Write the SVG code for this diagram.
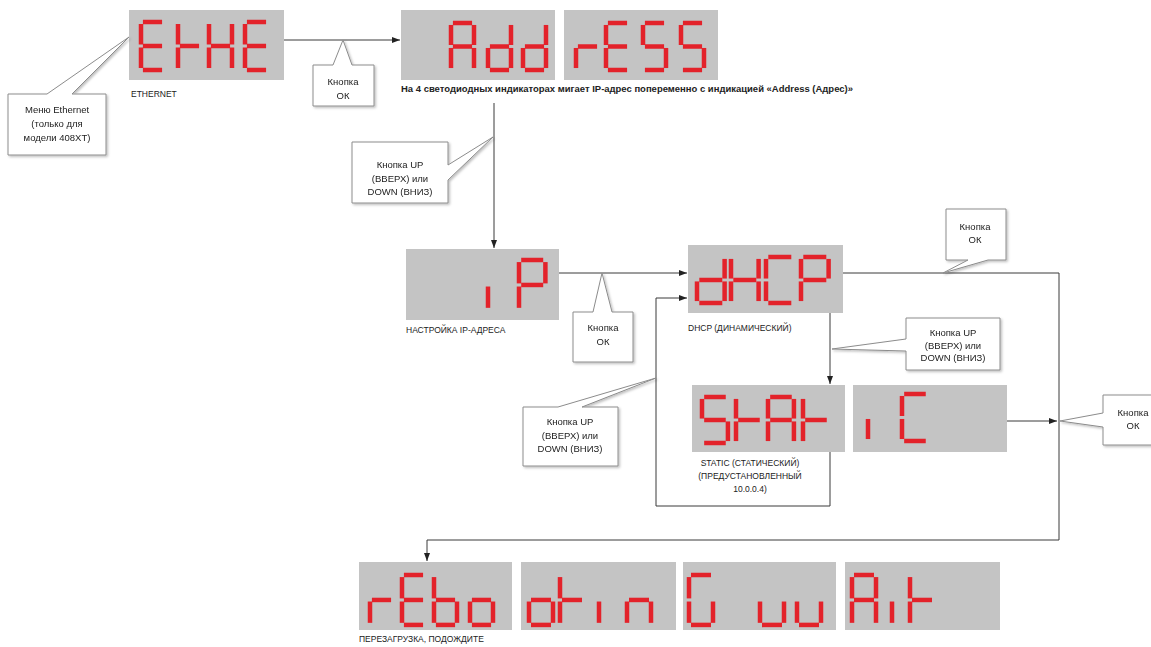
<svg xmlns="http://www.w3.org/2000/svg" xmlns:xlink="http://www.w3.org/1999/xlink" width="1151" height="647" viewBox="0 0 1151 647">
<style>
.box{fill:#c4c4c4}
.seg{stroke:#e3222a;stroke-width:4.5;fill:none}
.co{fill:#fff;stroke:#8c8c8c;stroke-width:1}
.ct{font-family:"Liberation Sans",Arial,sans-serif;font-size:9.5px;fill:#222;text-anchor:middle}
.lb{font-family:"Liberation Sans",Arial,sans-serif;font-size:8.5px;fill:#222}
.cn{fill:none;stroke:#3a3a3a;stroke-width:1}
</style>
<defs>
<marker id="arr" viewBox="0 0 8 6" refX="8" refY="3" markerWidth="8" markerHeight="6" markerUnits="userSpaceOnUse" orient="auto"><path d="M0,0 L8,3 L0,6 Z" fill="#222"/></marker>
<filter id="sh" x="-10%" y="-10%" width="130%" height="130%"><feDropShadow dx="1.5" dy="1.5" stdDeviation="0.8" flood-color="#000" flood-opacity="0.25"/></filter>
<line id="sa" x1="2" y1="0" x2="22" y2="0" vector-effect="non-scaling-stroke"/>
<line id="sb" x1="24" y1="2" x2="24" y2="22.5" vector-effect="non-scaling-stroke"/>
<line id="sc" x1="24" y1="25.5" x2="24" y2="46" vector-effect="non-scaling-stroke"/>
<line id="sd" x1="2" y1="48" x2="22" y2="48" vector-effect="non-scaling-stroke"/>
<line id="se" x1="0" y1="25.5" x2="0" y2="46" vector-effect="non-scaling-stroke"/>
<line id="sf" x1="0" y1="2" x2="0" y2="22.5" vector-effect="non-scaling-stroke"/>
<line id="sg" x1="2" y1="24" x2="22" y2="24" vector-effect="non-scaling-stroke"/>
<g id="cE"><use href="#sa"/><use href="#sd"/><use href="#se"/><use href="#sf"/><use href="#sg"/></g>
<g id="ct"><use href="#se"/><use href="#sf"/><use href="#sg"/></g>
<g id="cH"><use href="#sb"/><use href="#sc"/><use href="#se"/><use href="#sf"/><use href="#sg"/></g>
<g id="cA"><use href="#sa"/><use href="#sb"/><use href="#sc"/><use href="#se"/><use href="#sf"/><use href="#sg"/></g>
<g id="cd"><use href="#sb"/><use href="#sc"/><use href="#sd"/><use href="#se"/><use href="#sg"/></g>
<g id="cr"><use href="#se"/><use href="#sg"/></g>
<g id="cS"><use href="#sa"/><use href="#sf"/><use href="#sg"/><use href="#sc"/><use href="#sd"/></g>
<g id="ci"><use href="#se"/></g>
<g id="cP"><use href="#sa"/><use href="#sb"/><use href="#se"/><use href="#sf"/><use href="#sg"/></g>
<g id="cC"><use href="#sa"/><use href="#sd"/><use href="#se"/><use href="#sf"/></g>
<g id="cb"><use href="#sc"/><use href="#sd"/><use href="#se"/><use href="#sf"/><use href="#sg"/></g>
<g id="co"><use href="#sc"/><use href="#sd"/><use href="#se"/><use href="#sg"/></g>
<g id="cn"><use href="#sc"/><use href="#se"/><use href="#sg"/></g>
<g id="cG"><use href="#sa"/><use href="#sc"/><use href="#sd"/><use href="#se"/><use href="#sf"/></g>
<g id="cu"><use href="#sc"/><use href="#sd"/><use href="#se"/></g>
</defs>
<rect width="1151" height="647" fill="#fff"/>

<g id="connectors">
<path class="cn" d="M284,40 H400" marker-end="url(#arr)"/>
<path class="cn" d="M494,103 V248" marker-end="url(#arr)"/>
<path class="cn" d="M559,273 H687" marker-end="url(#arr)"/>
<path class="cn" d="M830,313 V384" marker-end="url(#arr)"/>
<path class="cn" d="M830,452 V506 H656 V298 H687" marker-end="url(#arr)"/>
<path class="cn" d="M843,273 H1059 V540 H427 V561" marker-end="url(#arr)"/>
<path class="cn" d="M1007,421 H1057" marker-end="url(#arr)"/>
</g>

<g id="node-ethe">
<title>EtHE</title>
<rect class="box" x="129" y="10" width="155" height="70"/>
<g class="seg">
<use href="#cE" transform="translate(141,22) scale(0.958,1)"/>
<use href="#ct" transform="translate(178,22) scale(0.958,1)"/>
<use href="#cH" transform="translate(209,22) scale(0.958,1)"/>
<use href="#cE" transform="translate(245,22) scale(0.958,1)"/>
</g>
<text class="lb" x="131" y="97" font-size="8">ETHERNET</text>
</g>

<g id="node-address">
<title>Add rESS</title>
<rect class="box" x="401" y="10" width="154" height="70"/>
<rect class="box" x="564" y="10" width="154" height="70"/>
<g class="seg">
<use href="#cA" transform="translate(451,23) scale(0.958,0.979)"/>
<use href="#cd" transform="translate(488,23) scale(0.958,0.979)"/>
<use href="#cd" transform="translate(523,23) scale(0.958,0.979)"/>
<use href="#cr" transform="translate(576,23) scale(0.958,0.979)"/>
<use href="#cE" transform="translate(606,23) scale(0.958,0.979)"/>
<use href="#cS" transform="translate(643,23) scale(0.958,0.979)"/>
<use href="#cS" transform="translate(681,23) scale(0.958,0.979)"/>
</g>
<text x="401" y="92" font-family="Liberation Sans, Arial, sans-serif" font-size="9" font-weight="bold" fill="#222" textLength="452" lengthAdjust="spacingAndGlyphs">На 4 светодиодных индикаторах мигает IP-адрес попеременно с индикацией «Address (Адрес)»</text>
</g>

<g id="node-ip">
<title>iP</title>
<rect class="box" x="406" y="249" width="153" height="71"/>
<g class="seg">
<use href="#ci" transform="translate(488,260) scale(1.1,1.04)"/>
<use href="#cP" transform="translate(519,260) scale(1.1,1.04)"/>
</g>
<text class="lb" x="406" y="333">НАСТРОЙКА IP-АДРЕСА</text>
</g>

<g id="node-dhcp">
<title>dHCP</title>
<rect class="box" x="688" y="245" width="155" height="68"/>
<g class="seg">
<use href="#cd" transform="translate(697,257) scale(1.15,0.958)"/>
<use href="#cH" transform="translate(731,257) scale(1.15,0.958)"/>
<use href="#cC" transform="translate(766,257) scale(1.15,0.958)"/>
<use href="#cP" transform="translate(801,257) scale(1.15,0.958)"/>
</g>
<text class="lb" x="688" y="331">DHCP (ДИНАМИЧЕСКИЙ)</text>
</g>

<g id="node-static">
<title>StAt iC</title>
<rect class="box" x="692" y="385" width="153" height="67"/>
<rect class="box" x="853" y="385" width="154" height="67"/>
<g class="seg">
<use href="#cS" transform="translate(702,397) scale(1.08,0.958)"/>
<use href="#ct" transform="translate(736,397) scale(1.08,0.958)"/>
<use href="#cA" transform="translate(768,397) scale(1.08,0.958)"/>
<use href="#ct" transform="translate(803,397) scale(1.08,0.958)"/>
<use href="#ci" transform="translate(868,394) scale(1.08,0.979)"/>
<use href="#cC" transform="translate(902,394) scale(1.08,0.979)"/>
</g>
<text class="lb" x="750" y="466" text-anchor="middle">STATIC (СТАТИЧЕСКИЙ)</text>
<text class="lb" x="750" y="479" text-anchor="middle">(ПРЕДУСТАНОВЛЕННЫЙ</text>
<text class="lb" x="750" y="492" text-anchor="middle">10.0.0.4)</text>
</g>

<g id="node-reboot">
<title>rEbo otin G uu Ait</title>
<rect class="box" x="359" y="562" width="153" height="68"/>
<rect class="box" x="521" y="562" width="155" height="68"/>
<rect class="box" x="683" y="562" width="153" height="68"/>
<rect class="box" x="845" y="562" width="155" height="68"/>
<g class="seg">
<use href="#cr" transform="translate(370,575) scale(0.958,1.04)"/>
<use href="#cE" transform="translate(402,575) scale(0.958,1.04)"/>
<use href="#cb" transform="translate(434,575) scale(0.958,1.04)"/>
<use href="#co" transform="translate(470,575) scale(0.958,1.04)"/>
<use href="#co" transform="translate(529,575) scale(1,1.04)"/>
<use href="#ct" transform="translate(560,575) scale(1,1.04)"/>
<use href="#ci" transform="translate(599,575) scale(1,1.04)"/>
<use href="#cn" transform="translate(627,575) scale(1,1.04)"/>
<use href="#cG" transform="translate(689,575) scale(1,1.04)"/>
<use href="#cu" transform="translate(760,575) scale(1,1.04)"/>
<use href="#cu" transform="translate(797,575) scale(1,1.04)"/>
<use href="#cA" transform="translate(852,575) scale(1,1.04)"/>
<use href="#ci" transform="translate(892,575) scale(1,1.04)"/>
<use href="#ct" transform="translate(910,575) scale(1,1.04)"/>
</g>
<text class="lb" x="359" y="642" font-size="8">ПЕРЕЗАГРУЗКА, ПОДОЖДИТЕ</text>
</g>

<g id="callout-menu" filter="url(#sh)">
<path class="co" d="M8,94 H47 L129,37 L72,94 H106 V155 H8 Z"/>
<text class="ct" x="57" y="113">Меню Ethernet</text>
<text class="ct" x="57" y="127">(только для</text>
<text class="ct" x="57" y="141">модели 408XT)</text>
</g>

<g id="callout-ok1" filter="url(#sh)">
<path class="co" d="M313,65 H333 L343,40 L352,65 H374 V106 H313 Z"/>
<text class="ct" x="343" y="85">Кнопка</text>
<text class="ct" x="343" y="99">ОК</text>
</g>

<g id="callout-up1" filter="url(#sh)">
<path class="co" d="M352,142 H448 V165 L493,137 L448,180 V203 H352 Z"/>
<text class="ct" x="400" y="168">Кнопка UP</text>
<text class="ct" x="400" y="181.5">(ВВЕРХ) или</text>
<text class="ct" x="400" y="195">DOWN (ВНИЗ)</text>
</g>

<g id="callout-ok2" filter="url(#sh)">
<path class="co" d="M573,312 H593 L602,273 L612,312 H633 V362 H573 Z"/>
<text class="ct" x="603" y="331">Кнопка</text>
<text class="ct" x="603" y="345">ОК</text>
</g>

<g id="callout-ok3" filter="url(#sh)">
<path class="co" d="M946,209 H1006 V260 H988 L943,273 L968,260 H946 Z"/>
<text class="ct" x="975" y="230">Кнопка</text>
<text class="ct" x="975" y="243">ОК</text>
</g>

<g id="callout-up2" filter="url(#sh)">
<path class="co" d="M906,318 H1000 V370 H906 V351 L832,349 L906,339 Z"/>
<text class="ct" x="953" y="336">Кнопка UP</text>
<text class="ct" x="953" y="348.5">(ВВЕРХ) или</text>
<text class="ct" x="953" y="361">DOWN (ВНИЗ)</text>
</g>

<g id="callout-up3" filter="url(#sh)">
<path class="co" d="M523,407 H558 L656,378 L582,407 H618 V466 H523 Z"/>
<text class="ct" x="570" y="425">Кнопка UP</text>
<text class="ct" x="570" y="439">(ВВЕРХ) или</text>
<text class="ct" x="570" y="452">DOWN (ВНИЗ)</text>
</g>

<g id="callout-ok4" filter="url(#sh)">
<path class="co" d="M1103,395 H1163 V445 H1103 V427 L1060,421 L1103,413 Z"/>
<text class="ct" x="1133" y="416">Кнопка</text>
<text class="ct" x="1133" y="429">ОК</text>
</g>
</svg>
